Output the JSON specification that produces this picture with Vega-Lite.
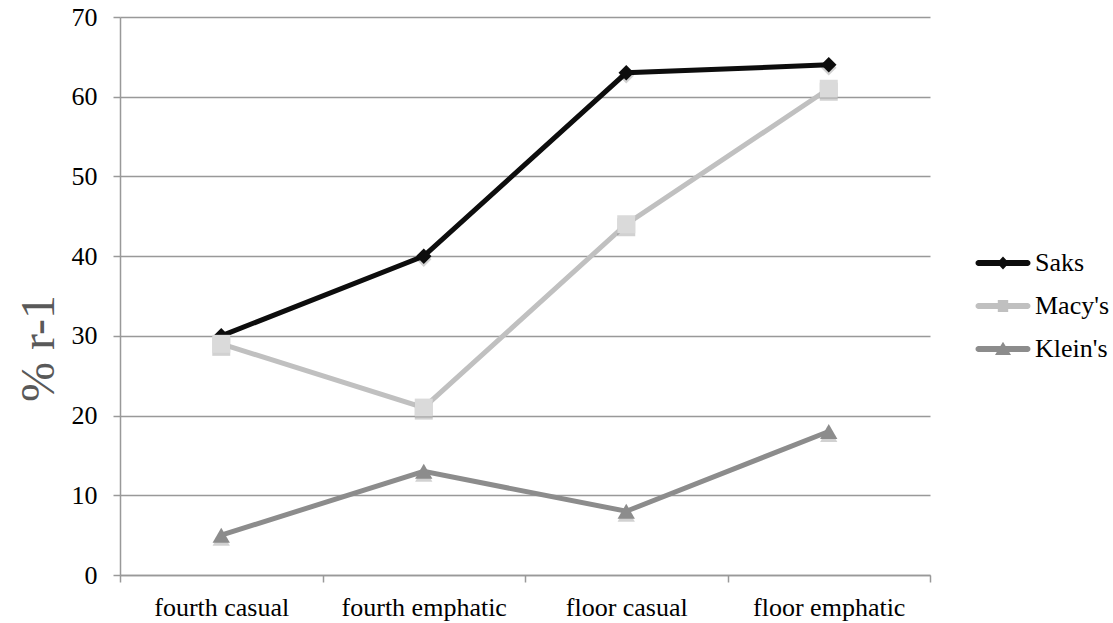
{
  "$schema": "https://vega.github.io/schema/vega-lite/v6.json",
  "width": 810,
  "height": 558,
  "autosize": "none",
  "padding": {"left": 120, "top": 17, "right": 183, "bottom": 48},
  "background": "white",
  "config": {
    "view": {"stroke": null},
    "font": "Liberation Serif"
  },
  "data": {
    "values": [
      {"position": "fourth casual", "series": "Saks", "value": 30},
      {"position": "fourth emphatic", "series": "Saks", "value": 40},
      {"position": "floor casual", "series": "Saks", "value": 63},
      {"position": "floor emphatic", "series": "Saks", "value": 64},
      {"position": "fourth casual", "series": "Macy's", "value": 29},
      {"position": "fourth emphatic", "series": "Macy's", "value": 21},
      {"position": "floor casual", "series": "Macy's", "value": 44},
      {"position": "floor emphatic", "series": "Macy's", "value": 61},
      {"position": "fourth casual", "series": "Klein's", "value": 5},
      {"position": "fourth emphatic", "series": "Klein's", "value": 13},
      {"position": "floor casual", "series": "Klein's", "value": 8},
      {"position": "floor emphatic", "series": "Klein's", "value": 18}
    ]
  },
  "encoding": {
    "x": {
      "field": "position",
      "type": "nominal",
      "sort": ["fourth casual", "fourth emphatic", "floor casual", "floor emphatic"],
      "scale": {"type": "band", "paddingInner": 0, "paddingOuter": 0},
      "axis": {
        "title": null,
        "labelAngle": 0,
        "tickBand": "extent",
        "grid": false,
        "domainColor": "#999999",
        "domainWidth": 1.5,
        "tickColor": "#999999",
        "tickWidth": 1.5,
        "tickSize": 7,
        "labelFont": "Liberation Serif",
        "labelFontSize": 26,
        "labelColor": "#000000",
        "labelPadding": 12
      }
    },
    "y": {
      "field": "value",
      "type": "quantitative",
      "scale": {"domain": [0, 70], "nice": false},
      "axis": {
        "title": "% r-1",
        "titleFont": "Liberation Serif",
        "titleFontSize": 48,
        "titleFontWeight": "normal",
        "titleColor": "#595959",
        "titleAngle": -90,
        "titleAlign": "center",
        "titleBaseline": "alphabetic",
        "titleX": -67,
        "titleY": 331,
        "values": [0, 10, 20, 30, 40, 50, 60, 70],
        "grid": true,
        "gridColor": "#999999",
        "gridWidth": 1.5,
        "domainColor": "#999999",
        "domainWidth": 1.5,
        "tickColor": "#999999",
        "tickWidth": 1.5,
        "tickSize": 7,
        "labelFont": "Liberation Serif",
        "labelFontSize": 26,
        "labelColor": "#000000",
        "labelPadding": 16
      }
    }
  },
  "layer": [
    {
      "description": "Invisible points that carry the series legend (line with marker symbols).",
      "mark": {"type": "point", "filled": true, "opacity": 0, "size": 10, "strokeWidth": 0},
      "encoding": {
        "color": {
          "field": "series",
          "type": "nominal",
          "scale": {"domain": ["Saks", "Macy's", "Klein's"], "range": ["#0d0d0d", "#c0c0c0", "#8c8c8c"]},
          "legend": {
            "title": null,
            "orient": "none",
            "legendX": 863,
            "legendY": 226,
            "padding": 0,
            "rowPadding": 10,
            "symbolSize": 1600,
            "symbolOpacity": 1,
            "symbolStrokeWidth": 0,
            "labelFont": "Liberation Serif",
            "labelFontSize": 26,
            "labelColor": "#000000",
            "labelOffset": 12,
            "encode": {"symbols": {"update": {"opacity": {"value": 1}}}}
          }
        },
        "shape": {
          "field": "series",
          "type": "nominal",
          "scale": {
            "domain": ["Saks", "Macy's", "Klein's"],
            "range": [
              "M-1.225,-0.15H1.225A0.15,0.15 0 0 1 1.225,0.15H-1.225A0.15,0.15 0 0 1 -1.225,-0.15Z M0,-0.32L0.3,0L0,0.32L-0.3,0Z",
              "M-1.225,-0.15H1.225A0.15,0.15 0 0 1 1.225,0.15H-1.225A0.15,0.15 0 0 1 -1.225,-0.15Z M-0.26,-0.3H0.26V0.3H-0.26Z",
              "M-1.225,-0.15H1.225A0.15,0.15 0 0 1 1.225,0.15H-1.225A0.15,0.15 0 0 1 -1.225,-0.15Z M0,-0.36L0.4,0.3L-0.4,0.3Z"
            ]
          },
          "legend": {
            "title": null,
            "orient": "none",
            "legendX": 863,
            "legendY": 226,
            "padding": 0,
            "rowPadding": 10,
            "symbolSize": 1600,
            "symbolOpacity": 1,
            "symbolStrokeWidth": 0,
            "labelFont": "Liberation Serif",
            "labelFontSize": 26,
            "labelColor": "#000000",
            "labelOffset": 12,
            "encode": {"symbols": {"update": {"opacity": {"value": 1}}}}
          }
        }
      }
    },
    {
      "mark": {"type": "line", "strokeWidth": 5},
      "encoding": {
        "stroke": {
          "field": "series",
          "type": "nominal",
          "scale": {"domain": ["Saks", "Macy's", "Klein's"], "range": ["#0d0d0d", "#c0c0c0", "#8c8c8c"]},
          "legend": null
        }
      }
    },
    {
      "transform": [{"filter": {"field": "series", "equal": "Saks"}}],
      "mark": {"type": "point", "shape": "diamond", "filled": true, "opacity": 0.18, "size": 240, "color": "#000000", "strokeWidth": 0, "yOffset": 3}
    },
    {
      "transform": [{"filter": {"field": "series", "equal": "Macy's"}}],
      "mark": {"type": "point", "shape": "square", "filled": true, "opacity": 0.18, "size": 324, "color": "#000000", "strokeWidth": 0, "yOffset": 3}
    },
    {
      "transform": [{"filter": {"field": "series", "equal": "Klein's"}}],
      "mark": {"type": "point", "shape": "triangle-up", "filled": true, "opacity": 0.18, "size": 300, "color": "#000000", "strokeWidth": 0, "yOffset": 3}
    },
    {
      "transform": [{"filter": {"field": "series", "equal": "Saks"}}],
      "mark": {"type": "point", "shape": "diamond", "filled": true, "opacity": 1, "size": 240, "color": "#0d0d0d", "strokeWidth": 0}
    },
    {
      "transform": [{"filter": {"field": "series", "equal": "Macy's"}}],
      "mark": {"type": "point", "shape": "square", "filled": true, "opacity": 1, "size": 324, "color": "#dadada", "strokeWidth": 0}
    },
    {
      "transform": [{"filter": {"field": "series", "equal": "Klein's"}}],
      "mark": {"type": "point", "shape": "triangle-up", "filled": true, "opacity": 1, "size": 300, "color": "#8c8c8c", "strokeWidth": 0}
    }
  ]
}
